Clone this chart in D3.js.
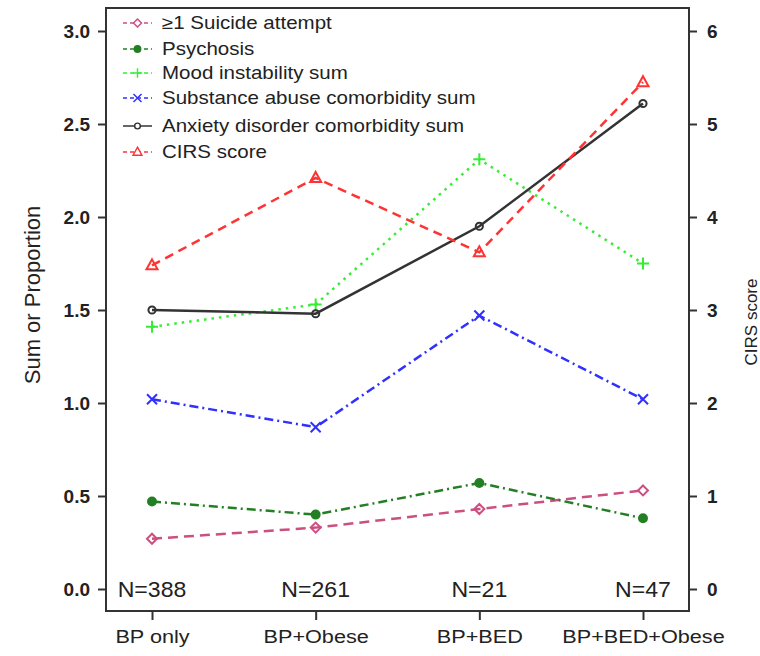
<!DOCTYPE html>
<html>
<head>
<meta charset="utf-8">
<script src="https://cdn.jsdelivr.net/npm/d3@7"></script>
<style>
  html, body { margin: 0; padding: 0; background: #fff; }
  svg { display: block; font-family: "Liberation Sans", Arial, Helvetica, sans-serif; }
</style>
</head>
<body>
<svg id="chart" width="760" height="656"></svg>
<script>
// ---- data ----
const categories = ["BP only", "BP+Obese", "BP+BED", "BP+BED+Obese"];
const sampleSizes = ["N=388", "N=261", "N=21", "N=47"];
const suicideAttempt = [0.27, 0.33, 0.43, 0.53];
const psychosis = [0.47, 0.40, 0.57, 0.38];
const moodInstability = [1.41, 1.53, 2.31, 1.75];
const substanceAbuse = [1.02, 0.87, 1.47, 1.02];
const anxietyDisorder = [1.50, 1.48, 1.95, 2.61];
const cirsScore = [3.48, 4.42, 3.62, 5.45];   // right axis
const leftTicks = [0, 0.5, 1.0, 1.5, 2.0, 2.5, 3.0];
const rightTicks = [0, 1, 2, 3, 4, 5, 6];

const seriesNames = ["\u22651 Suicide attempt", "Psychosis", "Mood instability sum",
  "Substance abuse comorbidity sum", "Anxiety disorder comorbidity sum", "CIRS score"];

// ---- styles ----
const styles = [
  { color: "#cc4f80", dash: "10,6", marker: "diamond", fill: "none", axis: "L" },
  { color: "#237f23", dash: "9,4,2,4", marker: "dot", fill: "#237f23", axis: "L" },
  { color: "#33ee33", dash: "2.5,5", marker: "plus", fill: "none", axis: "L" },
  { color: "#3030ff", dash: "9,4,2,4", marker: "x", fill: "none", axis: "L" },
  { color: "#333333", dash: null, marker: "circle", fill: "none", axis: "L" },
  { color: "#ff3333", dash: "9,6", marker: "triangle", fill: "none", axis: "R" }
];
const values = [suicideAttempt, psychosis, moodInstability, substanceAbuse, anxietyDisorder, cirsScore];

const svg = d3.select("#chart");
const box = { left: 106, right: 689, top: 8, bottom: 611 };
const stretch = "scale(1.14,1)";

const x = d3.scalePoint().domain(categories).range([152, 643]);
const yL = d3.scaleLinear().domain([0, 3]).range([589, 31]);
const yR = d3.scaleLinear().domain([0, 6]).range([589, 31]);

function markerPath(type) {
  switch (type) {
    case "diamond": return "M0,-5L5,0L0,5L-5,0Z";
    case "plus": return "M-6,0H6M0,-6V6";
    case "x": return "M-5,-5L5,5M-5,5L5,-5";
    case "triangle": return "M0,-6L5.5,4H-5.5Z";
    case "circle": return d3.symbol(d3.symbolCircle, 40)();
    case "dot": return d3.symbol(d3.symbolCircle, 50)();
  }
}

// ---- series ----
values.forEach((vals, i) => {
  const st = styles[i];
  const ys = st.axis === "R" ? yR : yL;
  const line = d3.line().x((d, j) => x(categories[j])).y(d => ys(d));
  svg.append("path")
    .datum(vals)
    .attr("d", line)
    .attr("fill", "none")
    .attr("stroke", st.color)
    .attr("stroke-width", 2.5)
    .attr("stroke-dasharray", st.dash);
  svg.selectAll(null).data(vals).enter().append("path")
    .attr("d", markerPath(st.marker))
    .attr("transform", (d, j) => `translate(${x(categories[j])},${ys(d)})`)
    .attr("fill", st.fill)
    .attr("stroke", st.color)
    .attr("stroke-width", 2);
});

// ---- sample size labels ----
svg.selectAll(null).data(sampleSizes).enter().append("text")
  .attr("transform", (d, i) => `translate(${x(categories[i])},${yL(0) + 8}) scale(1.05,1)`)
  .attr("text-anchor", "middle")
  .attr("font-size", 22)
  .attr("fill", "#222")
  .text(d => d);

// ---- box ----
svg.append("rect")
  .attr("x", box.left).attr("y", box.top)
  .attr("width", box.right - box.left).attr("height", box.bottom - box.top)
  .attr("fill", "none").attr("stroke", "#333").attr("stroke-width", 2);

// ---- axes ----
const gL = svg.append("g").attr("transform", `translate(${box.left},0)`)
  .call(d3.axisLeft(yL).tickValues(leftTicks).tickFormat(d3.format(".1f")).tickSize(8).tickPadding(8));
const gR = svg.append("g").attr("transform", `translate(${box.right},0)`)
  .call(d3.axisRight(yR).tickValues(rightTicks).tickFormat(d3.format("d")).tickSize(8).tickPadding(10));
const gB = svg.append("g").attr("transform", `translate(0,${box.bottom})`)
  .call(d3.axisBottom(x).tickSize(9).tickPadding(10));
[gL, gR, gB].forEach(g => {
  g.select(".domain").remove();
  g.selectAll(".tick line").attr("stroke", "#333").attr("stroke-width", 2);
  g.selectAll("text").attr("fill", "#222").attr("font-family", "Liberation Sans, Arial, sans-serif");
});
gL.selectAll("text").attr("font-size", 19).attr("font-weight", "bold");
gR.selectAll("text").attr("font-size", 19).attr("font-weight", "bold");
gB.selectAll("text").attr("font-size", 19).attr("transform", stretch);

// ---- axis titles ----
svg.append("text")
  .attr("transform", "translate(40,295) rotate(-90)")
  .attr("text-anchor", "middle")
  .attr("font-size", 22)
  .attr("fill", "#222")
  .text("Sum or Proportion");
svg.append("text")
  .attr("transform", "translate(757,322) rotate(-90)")
  .attr("text-anchor", "middle")
  .attr("font-size", 17)
  .attr("fill", "#222")
  .text("CIRS score");

// ---- legend ----
const legendY = [23, 49, 73, 98, 126, 152];
const lg = svg.append("g");
seriesNames.forEach((name, i) => {
  const st = styles[i];
  const g = lg.append("g").attr("transform", `translate(0,${legendY[i]})`);
  g.append("line").attr("x1", 123).attr("x2", 152).attr("y1", 0).attr("y2", 0)
    .attr("stroke", st.color).attr("stroke-width", 1.5)
    .attr("stroke-dasharray", st.dash ? "4,3" : null);
  g.append("path").attr("d", markerPath(st.marker))
    .attr("transform", "translate(137.5,0) scale(0.8)")
    .attr("fill", st.fill === "none" ? "#fff" : st.fill)
    .attr("stroke", st.color).attr("stroke-width", 1.8);
  g.append("text").attr("transform", `translate(162,0) ${stretch}`).attr("dy", "0.35em")
    .attr("font-size", 18).attr("fill", "#222").text(name);
});
</script>
</body>
</html>
